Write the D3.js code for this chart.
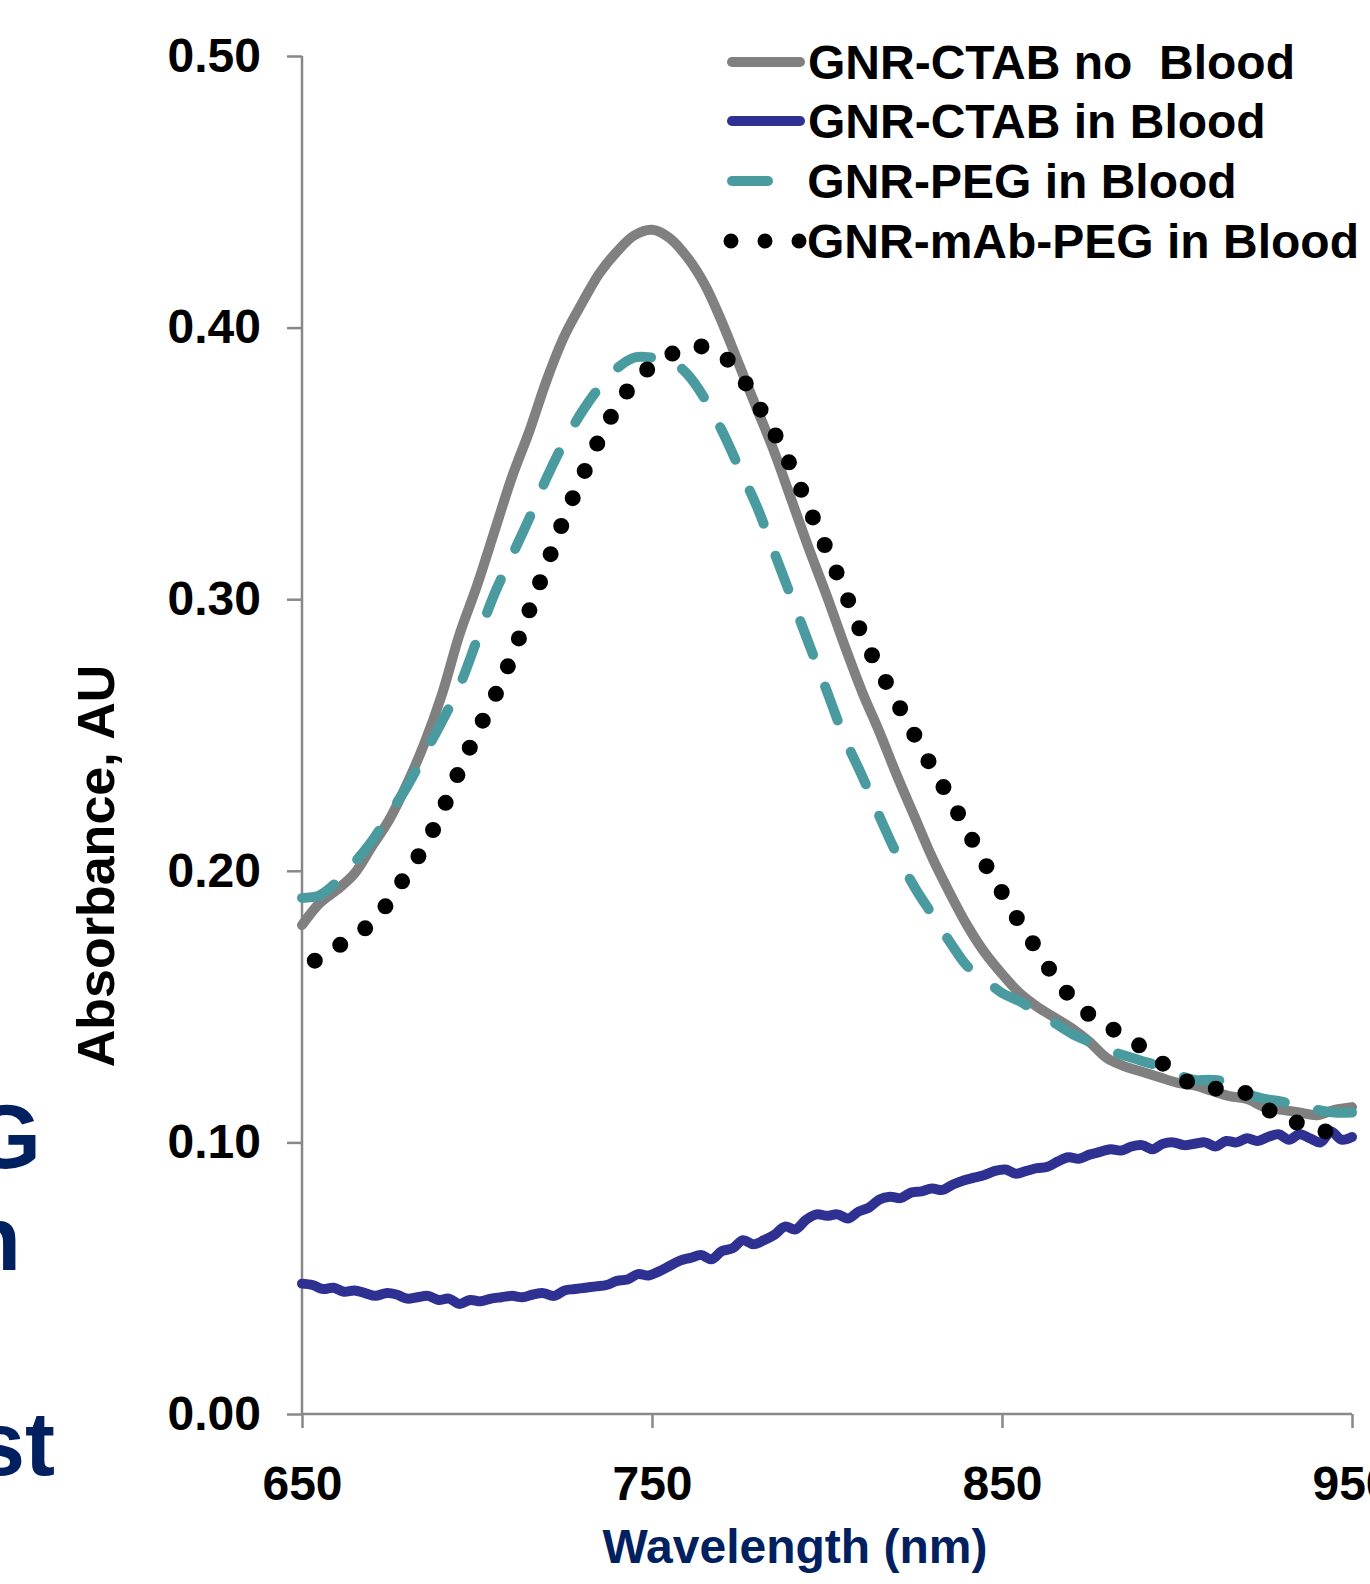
<!DOCTYPE html>
<html>
<head>
<meta charset="utf-8">
<script src="https://cdn.jsdelivr.net/npm/d3@7"></script>
<style>
  html, body { margin: 0; padding: 0; background: #ffffff; }
  svg { display: block; font-family: "Liberation Sans", Arial, sans-serif; font-weight: bold; }
</style>
</head>
<body>
<svg id="chart" width="1370" height="1584"></svg>
<script>
// ---------------- data ----------------
const seriesNames = ["GNR-CTAB no  Blood", "GNR-CTAB in Blood", " GNR-PEG in Blood", "GNR-mAb-PEG in Blood"];
const xTicks = [650, 750, 850, 950];
const yTicks = [0, 0.1, 0.2, 0.3, 0.4, 0.5];

// wavelength grid for the 5 nm series
const wl5 = [650,655,660,665,670,675,680,685,690,695,700,705,710,715,720,725,730,735,740,745,
             750,755,760,765,770,775,780,785,790,795,800,805,810,815,820,825,830,835,840,845,
             850,855,860,865,870,875,880,885,890,895,900,905,910,915,920,925,930,935,940,945,950];

const ctabNoBlood = [0.180,0.188,0.193,0.199,0.209,0.219,0.232,0.247,0.265,0.287,0.305,0.325,0.345,0.362,0.381,0.397,0.409,0.420,0.428,0.434,
                     0.436,0.433,0.426,0.416,0.402,0.386,0.370,0.354,0.336,0.318,0.301,0.283,0.266,0.251,0.235,0.220,0.205,0.192,0.180,0.170,
                     0.162,0.155,0.150,0.146,0.142,0.137,0.131,0.128,0.126,0.124,0.122,0.121,0.119,0.117,0.116,0.113,0.112,0.111,0.110,0.112,0.113];

const pegInBlood = [0.190,0.191,0.196,0.203,0.211,0.221,0.231,0.243,0.255,0.268,0.285,0.302,0.316,0.330,0.345,0.358,0.369,0.378,0.385,0.389,
                    0.389,0.388,0.383,0.374,0.362,0.348,0.334,0.317,0.300,0.283,0.266,0.249,0.235,0.220,0.206,0.194,0.184,0.174,0.165,0.160,
                    0.155,0.152,0.148,0.144,0.140,0.137,0.134,0.132,0.130,0.128,0.125,0.123,0.123,0.122,0.118,0.116,0.115,0.113,0.112,0.111,0.111];

const mabPegInBlood = [0.164,0.168,0.172,0.176,0.181,0.189,0.199,0.209,0.222,0.237,0.251,0.264,0.279,0.296,0.313,0.330,0.345,0.359,0.371,0.380,
                       0.386,0.390,0.392,0.393,0.390,0.383,0.372,0.361,0.348,0.333,0.318,0.303,0.287,0.274,0.262,0.250,0.238,0.227,0.215,0.203,
                       0.192,0.181,0.171,0.161,0.153,0.147,0.143,0.139,0.135,0.130,0.125,0.121,0.120,0.119,0.118,0.113,0.109,0.107,0.105,0.103,0.101];

// wavelength grid for the noisy blood series (3 nm)
const wl3 = [650,653,656,659,662,665,668,671,674,677,680,683,686,689,692,695,698,701,704,707,
             710,713,716,719,722,725,728,731,734,737,740,743,746,749,752,755,758,761,764,767,
             770,773,776,779,782,785,788,791,794,797,800,803,806,809,812,815,818,821,824,827,
             830,833,836,839,842,845,848,851,854,857,860,863,866,869,872,875,878,881,884,887,
             890,893,896,899,902,905,908,911,914,917,920,923,926,929,932,935,938,941,944,947,950];
const ctabInBlood = [0.0480,0.0475,0.0460,0.0465,0.0450,0.0455,0.0445,0.0435,0.0445,0.0440,0.0425,0.0430,0.0435,0.0420,0.0425,0.0405,0.0420,0.0415,0.0425,0.0430,
                     0.0435,0.0430,0.0440,0.0445,0.0435,0.0455,0.0460,0.0465,0.0470,0.0475,0.0490,0.0495,0.0515,0.0510,0.0525,0.0545,0.0565,0.0575,0.0585,0.0570,
                     0.0600,0.0610,0.0640,0.0625,0.0640,0.0660,0.0690,0.0680,0.0715,0.0735,0.0730,0.0735,0.0720,0.0745,0.0760,0.0790,0.0800,0.0795,0.0815,0.0820,
                     0.0830,0.0825,0.0845,0.0860,0.0870,0.0880,0.0895,0.0900,0.0885,0.0895,0.0905,0.0910,0.0930,0.0945,0.0940,0.0955,0.0965,0.0975,0.0970,0.0985,
                     0.0990,0.0975,0.0995,0.1000,0.0990,0.0995,0.1000,0.0985,0.1005,0.1000,0.1015,0.1005,0.1020,0.1030,0.1010,0.1030,0.1015,0.1000,0.1040,0.1010,0.1020];

// ---------------- chart ----------------
const svg = d3.select("#chart");
const W = 1370, H = 1584;
svg.append("rect").attr("width", W).attr("height", H).attr("fill", "#ffffff");

const x = d3.scaleLinear().domain([650, 950]).range([302, 1352]);
const y = d3.scaleLinear().domain([0, 0.5]).range([1414, 56]);

const navy = "#002060";
const axisGray = "#888888";

// clipped text at left edge
const leftText = svg.append("g").attr("fill", navy).attr("font-size", 90).attr("text-anchor", "end");
leftText.append("text").attr("x", 41).attr("y", 1168).text("G");
leftText.append("text").attr("x", 21).attr("y", 1270).text("n");
leftText.append("text").attr("x", 55).attr("y", 1475).text("st");

// axes
const yAxis = d3.axisLeft(y).tickValues(yTicks).tickFormat(d3.format(".2f")).tickSize(15).tickPadding(26);
const xAxis = d3.axisBottom(x).tickValues(xTicks).tickFormat(d3.format("d")).tickSize(14).tickPadding(38);

const gy = svg.append("g").attr("transform", `translate(${x(650)},0)`).call(yAxis);
const gx = svg.append("g").attr("transform", `translate(0,${y(0)})`).call(xAxis);
[gy, gx].forEach(g => {
  g.select(".domain").attr("stroke", axisGray).attr("stroke-width", 2.5);
  g.selectAll(".tick line").attr("stroke", axisGray).attr("stroke-width", 2.5);
  g.selectAll(".tick text").attr("fill", "#000").attr("font-size", 48)
    .attr("font-family", '"Liberation Sans", Arial, sans-serif').attr("font-weight", "bold");
});
gy.select(".domain").attr("d", `M0,${y(0.5)}V${y(0)}`);
gx.select(".domain").attr("d", `M${x(650)},0H${x(950)}`);
gx.selectAll(".tick text").attr("dy", "0.71em");

// axis titles
svg.append("text").attr("x", 795).attr("y", 1563).attr("text-anchor", "middle")
  .attr("font-size", 48).attr("fill", navy).text("Wavelength (nm)");
svg.append("text").attr("transform", "translate(114,866) rotate(-90)").attr("text-anchor", "middle")
  .attr("font-size", 52).attr("fill", "#000").text("Absorbance, AU");

// series
const styles = [
  { color: "#808080", width: 10, dash: null, offset: 0 },
  { color: "#2E3192", width: 10, dash: null, offset: 0 },
  { color: "#4A9BA0", width: 10, dash: "36,34", offset: 0 },
  { color: "#000000", width: 16, dash: "0,30", offset: 15 }
];
const seriesData = [
  wl5.map((w, i) => [w, ctabNoBlood[i]]),
  wl3.map((w, i) => [w, ctabInBlood[i]]),
  wl5.map((w, i) => [w, pegInBlood[i]]),
  wl5.map((w, i) => [w, mabPegInBlood[i]])
];

const line = d3.line().x(d => x(d[0])).y(d => y(d[1])).curve(d3.curveCatmullRom.alpha(0.5));

seriesData.forEach((data, i) => {
  const s = styles[i];
  const p = svg.append("path").datum(data).attr("d", line)
    .attr("fill", "none").attr("stroke", s.color).attr("stroke-width", s.width)
    .attr("stroke-linecap", "round").attr("stroke-linejoin", "round");
  if (s.dash) p.attr("stroke-dasharray", s.dash).attr("stroke-dashoffset", s.offset);
});

// legend
const legend = svg.append("g");
const rowBase = [79, 138, 198, 258];
const textX = [808, 808, 794, 807];
seriesNames.forEach((name, i) => {
  const s = styles[i];
  const ly = rowBase[i] - 17;
  if (i === 3) {
    legend.append("line").attr("x1", 731).attr("x2", 800).attr("y1", ly).attr("y2", ly)
      .attr("stroke", s.color).attr("stroke-width", 15).attr("stroke-linecap", "round")
      .attr("stroke-dasharray", "0,34");
  } else if (i === 2) {
    legend.append("line").attr("x1", 732).attr("x2", 768).attr("y1", ly).attr("y2", ly)
      .attr("stroke", s.color).attr("stroke-width", 10).attr("stroke-linecap", "round");
  } else {
    legend.append("line").attr("x1", 732).attr("x2", 800).attr("y1", ly).attr("y2", ly)
      .attr("stroke", s.color).attr("stroke-width", 10).attr("stroke-linecap", "round");
  }
  legend.append("text").attr("x", textX[i]).attr("y", rowBase[i])
    .attr("font-size", 48).attr("fill", "#000").attr("xml:space", "preserve")
    .style("white-space", "pre").text(name);
});
</script>
</body>
</html>
